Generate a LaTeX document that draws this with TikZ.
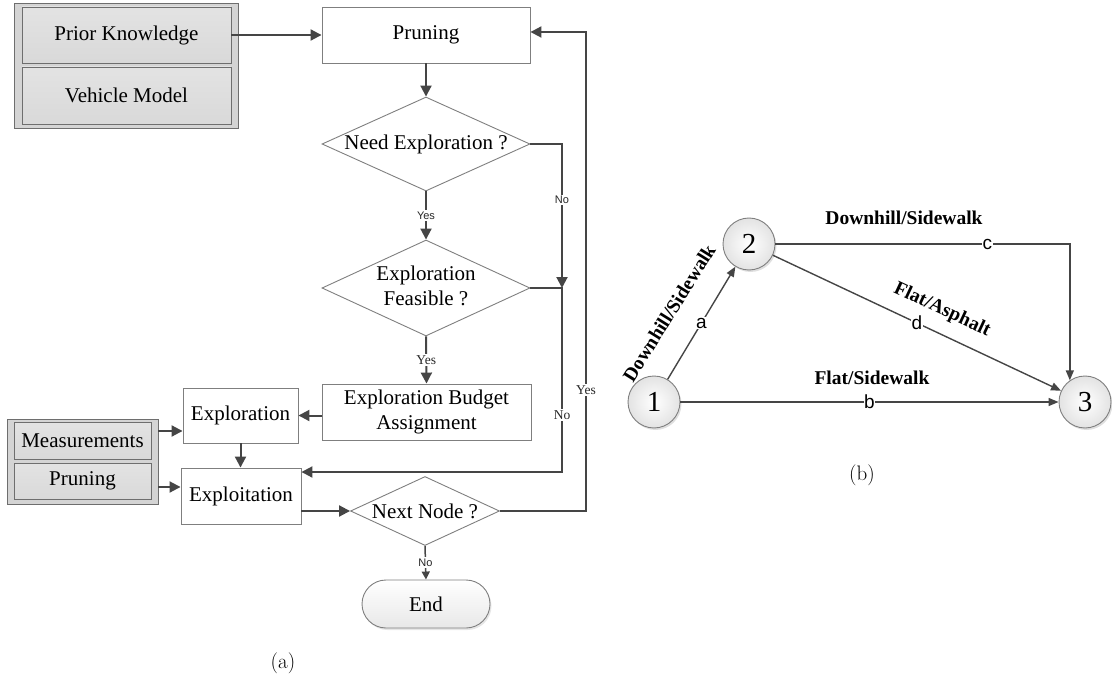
\documentclass[tikz,border=0pt]{standalone}
\usepackage{fontspec}
\newfontfamily\tnr{Liberation Serif}
\newfontfamily\arl{Liberation Sans}
\usetikzlibrary{arrows.meta,shapes.geometric,shadows,calc}
\definecolor{linec}{HTML}{454545}
\definecolor{edgec}{HTML}{7F7F7F}
\definecolor{grpfill}{HTML}{D4D4D4}
\definecolor{grpedge}{HTML}{6E6E6E}
\begin{document}
\begin{tikzpicture}[x=1pt,y=-1pt,
  txt/.style={font=\tnr\fontsize{21}{25}\selectfont},
  box/.style={txt, draw=edgec, line width=0.9pt, fill=white, inner sep=0pt, align=center},
  grpbox/.style={draw=grpedge, line width=0.9pt, fill=grpfill, inner sep=0pt},
  itembox/.style={txt, draw=grpedge, line width=0.9pt, top color=gray!22, bottom color=gray!30, inner sep=0pt},
  decision/.style={txt, diamond, draw=edgec, line width=0.9pt, fill=white, inner sep=0pt},
  arr/.style={draw=linec, line width=2pt, -{Triangle[length=11pt,width=11pt]}},
  sarr/.style={draw=linec, line width=1.5pt, -{Triangle[length=8pt,width=8pt]}},
  lsans/.style={font=\arl\fontsize{11}{12}\selectfont, fill=white, inner sep=1.5pt, text=black!85},
  lserif/.style={font=\tnr\fontsize{13.5}{14}\selectfont, fill=white, inner sep=1.5pt, text=black!85},
  state/.style={circle, draw=edgec, line width=0.9pt, minimum size=52pt, inner sep=0pt,
    inner color=white, outer color=gray!22,
    drop shadow={shadow xshift=1.5pt, shadow yshift=-2pt, opacity=0.25},
    font=\tnr\fontsize{29}{30}\selectfont},
  edge/.style={draw=linec, line width=1.4pt, -{Triangle[length=10pt,width=8pt]}},
  letter/.style={font=\arl\fontsize{19}{20}\selectfont, fill=white, inner sep=0.5pt},
  road/.style={font=\tnr\bfseries\fontsize{19.5}{21}\selectfont},
  caption/.style={font=\fontsize{21}{25}\selectfont}
]
\useasboundingbox (0,0) rectangle (1112,674);

% ---------- flow chart ----------
\node[grpbox, minimum width=224pt, minimum height=125pt] (grp1) at (126,65.5) {};
\node[itembox, minimum width=209pt, minimum height=56pt] (pk) at (126.5,35) {Prior Knowledge};
\node[itembox, minimum width=209pt, minimum height=57pt] (vm) at (126.5,95.5) {Vehicle Model};

\node[box, minimum width=208pt, minimum height=56pt] (prune) at (426,35) {Pruning};
\node[decision, minimum width=208pt, minimum height=94pt] (need) at (426,144)
  {\makebox[0pt]{Need Exploration ?}};
\node[decision, minimum width=208pt, minimum height=96pt] (feas) at (426,288)
  {\makebox[0pt]{\begin{tabular}{@{}c@{}}Exploration\\Feasible ?\end{tabular}}};
\node[box, minimum width=209pt, minimum height=56pt] (budget) at (426.5,412)
  {Exploration Budget\\Assignment};
\node[box, minimum width=115pt, minimum height=55pt] (explo) at (240.5,415.5) {Exploration};
\node[box, minimum width=120pt, minimum height=56pt] (exploit) at (241,496) {Exploitation};

\node[grpbox, minimum width=151pt, minimum height=85pt] (grp2) at (82.5,461.5) {};
\node[itembox, minimum width=137pt, minimum height=37pt] (meas) at (82.5,440.5) {Measurements};
\node[itembox, minimum width=137pt, minimum height=36pt] (prune2) at (82.5,481) {Pruning};

\node[decision, minimum width=149pt, minimum height=69pt] (next) at (425,511)
  {\makebox[0pt]{Next Node ?}};
\node[txt, draw=edgec, line width=0.9pt, rounded corners=24pt, minimum width=128pt,
  minimum height=48pt, inner sep=0pt, top color=white, bottom color=gray!18,
  drop shadow={shadow xshift=1.5pt, shadow yshift=-2pt, opacity=0.2}] (endn) at (426,604) {End};

\node[caption] (capa) at (283,663) {(a)};

% routing columns on the right of the chart
\coordinate (noline) at (562,0);
\coordinate (yesline) at (586,0);
\coordinate (prin) at ([yshift=3pt]prune.east);
\coordinate (exin) at ([yshift=24pt]exploit.east);
\coordinate (exout) at ([yshift=-15pt]exploit.east);
\coordinate (mein) at ([yshift=-15.5pt]explo.west);
\coordinate (prin2) at ([yshift=9pt]exploit.west);

\draw[arr] (pk.east) -- (prune.west);
\draw[arr] (prune.south) -- (need.north);
\draw[arr] (need.south) -- node[lsans]{Yes} (feas.north);
\draw[arr] (feas.south) -- node[lserif]{Yes} (budget.north);
\draw[arr] (need.east) -| node[lsans, pos=0.694]{No} (noline |- feas.east);
\draw[arr] (feas.east) -| node[lserif, pos=0.845]{No} (noline |- exin) -- (exin);
\draw[arr] (budget.west |- explo.east) -- (explo.east);
\draw[arr] (explo.south) -- (explo.south |- exploit.north);
\draw[arr] (grp2.east |- mein) -- (mein);
\draw[arr] (grp2.east |- prin2) -- (prin2);
\draw[arr] (exout) -- (next.west);
\draw[arr] (next.east) -| node[lserif, pos=0.626]{Yes} (yesline |- prin) -- (prin);
\draw[sarr] (next.south) -- node[lsans]{No} (endn.north);

% ---------- road graph ----------
\node[state] (n1) at (654,402) {1};
\node[state] (n2) at (749,244) {2};
\node[state] (n3) at (1085,402) {3};

\draw[edge] (n1) -- node[letter]{a} (n2);
\draw[edge] (n1) -- node[letter]{b} (n3);
\draw[edge] (n2.east) -| node[letter, pos=0.36]{c} (n3.125);
\draw[edge] (n2) -- node[letter]{d} (n3);

\node[road, rotate=58] (ra) at (669,313) {Downhill/Sidewalk};
\node[road] (rc) at (904,218) {Downhill/Sidewalk};
\node[road] (rb) at (872,378) {Flat/Sidewalk};
\node[road, rotate=-25] (rd) at (942,310) {Flat/Asphalt};

\node[caption] (capb) at (862,475) {(b)};
\end{tikzpicture}
\end{document}
